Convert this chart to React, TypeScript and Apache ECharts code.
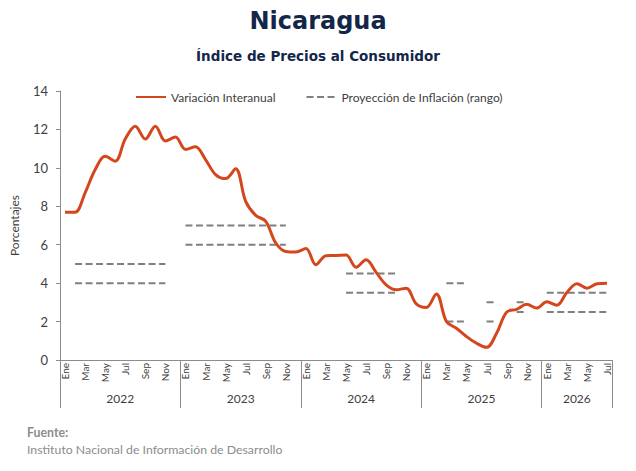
import React, { useEffect, useRef } from "react";
import * as echarts from "echarts";

const monthNames = ["Ene", "Feb", "Mar", "Abr", "May", "Jun", "Jul", "Ago", "Sep", "Oct", "Nov", "Dic"];
const years = [2022, 2023, 2024, 2025, 2026];
const lastYearMonths = 7;

const inflation = [
  7.69, 7.69, 8.7, 9.9, 10.6, 10.35, 11.5, 12.17, 11.5, 12.17, 11.4, 11.6,
  10.96, 11.1, 10.43, 9.65, 9.44, 9.95, 8.26, 7.53, 7.22, 6.09, 5.65, 5.62,
  5.8, 4.96, 5.43, 5.44, 5.46, 4.83, 5.22, 4.56, 3.91, 3.65, 3.74, 2.92,
  2.73, 3.44, 2.0, 1.65, 1.22, 0.87, 0.66, 1.39, 2.49, 2.64, 2.9, 2.7,
  3.03, 2.85, 3.51, 3.97, 3.74, 3.97, 4.0,
];

// projection ranges: start/end month index, low, high
const projStart = [1, 12, 28, 38, 42, 45, 48];
const projEnd = [10, 22, 33, 40, 43, 46, 54];
const projLow = [4, 6, 3.5, 2, 2, 2.5, 2.5];
const projHigh = [5, 7, 4.5, 4, 3, 3, 3.5];

const categories: string[] = [];
years.forEach((y, yi) => {
  const n = yi === years.length - 1 ? lastYearMonths : 12;
  for (let m = 0; m < n; m++) categories.push(`${monthNames[m]} ${y}`);
});

function buildProj(vals: number[]) {
  const arr: (number | null)[] = categories.map(() => null);
  projStart.forEach((s, k) => {
    for (let i = s; i <= projEnd[k]; i++) arr[i] = vals[k];
  });
  return arr;
}

const FONT = "Lato, 'Noto Sans', sans-serif";
const TFONT = "'DejaVu Sans', Lato, sans-serif";
const GRAY = "#404040";
const AXIS = "#8c8c8c";
const RED = "#D4471C";
const DASH = "#7f7f7f";

export default function App() {
  const ref = useRef<HTMLDivElement>(null);
  useEffect(() => {
    document.body.style.margin = "0";
    if (!ref.current) return;
    const chart = echarts.init(ref.current, null, { renderer: "svg" });
    const yearCenterIdx: Record<number, string> = {};
    let start = 0;
    years.forEach((y, yi) => {
      const n = yi === years.length - 1 ? lastYearMonths : 12;
      yearCenterIdx[start + Math.floor(n / 2)] = n % 2 === 0 ? "full" : "odd";
      start += n;
    });
    const projName = "Proyección de Inflación (rango)";
    chart.setOption({
      animation: false,
      textStyle: { fontFamily: FONT },
      title: [
        {
          text: "Nicaragua",
          left: "center",
          top: 4,
          textStyle: { fontSize: 24, fontWeight: "bold", color: "#13264A", fontFamily: TFONT },
        },
        {
          text: "Índice de Precios al Consumidor",
          left: "center",
          top: 44,
          textStyle: { fontSize: 13.5, fontWeight: "bold", color: "#13264A", fontFamily: TFONT },
        },
        {
          text: "Fuente:",
          left: 22,
          top: 421,
          textStyle: { fontSize: 12.3, fontWeight: "bold", color: "#8c8c8c", fontFamily: FONT },
        },
        {
          text: "Instituto Nacional de Información de Desarrollo",
          left: 22,
          top: 438,
          textStyle: { fontSize: 12.3, fontWeight: "normal", color: "#8c8c8c", fontFamily: FONT },
        },
      ],
      legend: {
        top: 86,
        left: 130,
        itemWidth: 30,
        itemHeight: 14,
        itemGap: 30,
        itemStyle: { opacity: 0 },
        textStyle: { fontSize: 12, color: GRAY, fontFamily: FONT },
        data: ["Variación Interanual", projName],
      },
      grid: { left: 60, right: 24, top: 91, bottom: 111, containLabel: false },
      xAxis: [
        {
          type: "category",
          data: categories,
          boundaryGap: true,
          axisLine: { show: true, lineStyle: { color: AXIS, width: 1 } },
          axisTick: {
            show: true,
            length: 48,
            interval: (i: number) => i % 12 === 0,
            lineStyle: { color: AXIS },
          },
          axisLabel: {
            interval: 1,
            rotate: 90,
            margin: 3,
            fontSize: 10,
            color: GRAY,
            fontFamily: FONT,
            formatter: (v: string) => v.split(" ")[0],
          },
        },
        {
          type: "category",
          data: categories,
          position: "bottom",
          offset: 28,
          boundaryGap: true,
          axisLine: { show: false },
          axisTick: { show: false },
          axisLabel: {
            interval: (i: number) => yearCenterIdx[i] !== undefined,
            margin: 4,
            fontSize: 12,
            color: GRAY,
            fontFamily: FONT,
            formatter: (v: string, i: number) => {
              const y = v.split(" ")[1];
              return yearCenterIdx[i] === "full" ? `{f|${y}}` : `{o|${y}}`;
            },
            rich: {
              f: { padding: [0, 10, 0, 0], fontSize: 12, color: GRAY, fontFamily: FONT },
              o: { fontSize: 12, color: GRAY, fontFamily: FONT },
            },
          },
        },
      ],
      yAxis: {
        type: "value",
        min: 0,
        max: 14,
        interval: 2,
        name: "Porcentajes",
        nameLocation: "middle",
        nameGap: 40,
        nameTextStyle: { fontSize: 12, color: GRAY, fontFamily: FONT },
        axisLine: { show: true, lineStyle: { color: AXIS } },
        axisTick: { show: true, length: 4, lineStyle: { color: AXIS } },
        axisLabel: { fontSize: 13, color: GRAY, margin: 12, fontFamily: FONT },
        splitLine: { show: false },
      },
      series: [
        {
          name: "Variación Interanual",
          type: "line",
          data: inflation,
          symbol: "none",
          smooth: 0.35,
          lineStyle: { color: RED, width: 3 },
          itemStyle: { color: RED },
          z: 3,
        },
        {
          name: projName,
          type: "line",
          data: buildProj(projHigh),
          symbol: "none",
          connectNulls: false,
          lineStyle: { color: DASH, width: 2, type: [7, 3.5] },
          itemStyle: { color: DASH },
          z: 2,
        },
        {
          name: projName,
          type: "line",
          data: buildProj(projLow),
          symbol: "none",
          connectNulls: false,
          lineStyle: { color: DASH, width: 2, type: [7, 3.5] },
          itemStyle: { color: DASH },
          z: 2,
        },
      ],
    });
    return () => chart.dispose();
  }, []);
  return <div ref={ref} style={{ width: 636, height: 471 }} />;
}
